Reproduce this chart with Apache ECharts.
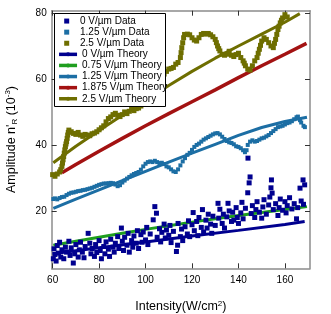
<!DOCTYPE html>
<html><head><meta charset="utf-8">
<script src="https://cdn.jsdelivr.net/npm/echarts@6/dist/echarts.min.js"></script>
<style>html,body{margin:0;padding:0;background:#fff}#c{width:331px;height:314px}</style>
</head><body><div id="c"></div>
<script>
// ---------- data ----------
const xTicks = [60, 80, 100, 120, 140, 160];
const yTicks = [20, 40, 60, 80];
const dataNames = ['0 V/\u00b5m Data', '1.25 V/\u00b5m Data', '2.5 V/\u00b5m Data'];
const theoryNames = ['0 V/\u00b5m Theory', '0.75 V/\u00b5m Theory', '1.25 V/\u00b5m Theory', '1.875 V/\u00b5m Theory', '2.5 V/\u00b5m Theory'];

const data0 = [[60.3,5.5],[60.6,8.5],[61,6.8],[61.5,4.8],[62,9.5],[62.5,7.2],[63,10.5],[63.5,6.0],[64,8.2],[64.8,5.5],[65.5,9.0],[66,7.5],[67,10.8],[67.5,6.5],[68,8.8],[68.9,4.2],[69.5,7.0],[70,9.8],[71,6.0],[71.5,8.2],[72,10.5],[72.8,7.5],[73.5,5.8],[74,9.2],[75.3,13.2],[76,10.2],[76.5,7.0],[77,8.6],[78,6.2],[78.5,9.8],[79,7.4],[80,11.0],[80.5,8.0],[81,5.5],[82,9.2],[82.5,7.0],[83,10.6],[84,8.4],[84.5,6.2],[85,11.4],[86,9.0],[86.5,7.5],[87,10.2],[88,12.2],[88.5,8.6],[89.6,14.8],[90,10.8],[90.5,8.0],[91,12.0],[92,9.6],[92.5,13.2],[93,7.5],[94,11.0],[94.5,9.0],[95,12.4],[96,10.2],[96.5,14.0],[97,8.6],[98,12.8],[98.5,10.5],[99,13.6],[100,11.2],[100.5,15.0],[101,9.8],[102,13.0],[103.3,17.3],[104,21.3],[104.7,19.3],[105,12.0],[106,14.6],[106.5,10.6],[107,13.5],[108,16.0],[108.5,11.8],[109,14.2],[110,12.6],[110.5,15.6],[111,10.4],[112,13.8],[113.3,7.7],[113.8,9.6],[114,16.2],[115,12.2],[115.5,14.5],[116,11.0],[117,15.2],[118,13.0],[118.5,17.0],[119,12.2],[120,15.8],[120.5,19.5],[121,14.0],[122,16.8],[122.5,12.5],[123,18.0],[124,15.0],[124.5,20.4],[125,13.6],[126,17.2],[126.5,14.8],[127,19.0],[128,16.0],[128.5,13.2],[129,18.4],[130,15.6],[131.2,22.3],[131.5,17.8],[132,20.5],[133,16.2],[133.5,19.0],[134,14.8],[135,18.2],[135.5,22.3],[136,20.0],[137,16.8],[137.5,19.6],[138,17.2],[139,21.0],[139.5,18.0],[140,16.2],[141,19.4],[141.5,22.6],[142,17.6],[143,20.8],[144,25.5],[144.1,36.0],[144.6,28.5],[145,30.3],[145.5,19.2],[146,21.6],[147,18.0],[147.5,20.4],[148,22.8],[149,19.6],[150,17.8],[150.5,21.2],[151,23.4],[152,19.0],[153,21.8],[153.5,24.2],[154,27.0],[154.2,29.4],[154.5,25.4],[155,20.4],[156,22.2],[157,18.6],[157.5,21.0],[158,23.6],[159,20.2],[160,22.8],[160.5,19.4],[161,21.6],[162,24.0],[163,20.6],[164,22.2],[165,17.6],[165.5,21.0],[166.5,26.9],[167,23.0],[167.8,29.4],[168.5,27.9],[168,22.0]];

const data125 = [[60.3,23.6],[61,23.8],[62,23.5],[63,23.9],[64,24.2],[65,24.3],[66,24.8],[67,25.2],[68,25.5],[69,25.6],[70,25.8],[71,26.0],[72,26.1],[73,26.3],[74,26.4],[75,26.6],[76,26.8],[77,27.0],[78,27.3],[79,27.6],[80,27.9],[81,28.1],[82,28.3],[83,28.3],[84,28.4],[85,28.5],[86,28.4],[87,28.0],[88,27.5],[89,27.8],[90,28.6],[91,29.2],[92,29.8],[93,30.3],[94,30.8],[95,31.2],[96,31.5],[97,31.8],[98,32.5],[99,33.5],[100,34.3],[101,34.8],[102,35.0],[103,34.8],[104,35.2],[105,34.8],[106,34.5],[107,34.6],[108,34.2],[109,33.5],[110,33.2],[111,32.6],[112,32.0],[113,31.8],[114,32.6],[115,33.8],[116,35.0],[117,36.0],[118,37.0],[119,37.6],[120,38.5],[121,39.4],[122,40.0],[123,40.4],[124,41.0],[125,41.6],[126,42.0],[127,42.4],[128,42.8],[129,43.2],[130,43.5],[131,43.6],[132,43.2],[133,42.5],[134,41.8],[135,41.2],[136,40.8],[137,40.6],[138,40.2],[139,39.6],[140,39.4],[141,39.0],[142,38.4],[142.8,37.8],[143.5,38.4],[144,40.0],[145,41.0],[146,41.4],[147,41.0],[148,41.2],[149,41.6],[150,42.0],[151,42.2],[152,42.6],[153,43.0],[154,43.6],[155,44.2],[156,44.8],[157,45.4],[158,45.6],[159,45.8],[160,46.2],[161,46.6],[162,46.8],[163,47.2],[164,47.8],[165,48.4],[165.6,48.6],[166.5,47.5],[167,46.8],[168,45.8],[168.6,45.4]];

const data25 = [[60,31.0],[61,30.5],[62,31.2],[63,31.8],[63.5,32.5],[64,33.5],[64.25,34.5],[64.5,35.5],[64.75,36.5],[65,37.5],[65.25,38.5],[65.5,39.5],[65.75,40.3],[66,41],[66.25,42],[66.5,43],[66.75,43.8],[67,44.5],[68,44],[69,43.5],[70,43.2],[71,43.8],[72,43],[73,42.6],[74,43.2],[75,43],[76,42.8],[77,43.4],[78,43.6],[79,44],[80,44.6],[81,45.2],[82,45.8],[83,47],[84,48],[85,48.5],[86,49.2],[87,49.6],[88,49],[89,48.6],[90,49.2],[91,50],[92,49.5],[93,50.2],[94,50.8],[95,50.4],[96,51],[97,51.2],[98,51.8],[99,52.5],[100,53.5],[101,54.5],[102,55.5],[103,56.5],[104,57.5],[105,58.5],[106,59.5],[107,60.5],[108,61.5],[109,62.3],[110,63],[111,63.2],[112,63.5],[113,64.5],[114,65],[115,66.5],[115.3,68],[115.6,69.5],[116,71],[116.4,72.5],[116.8,73.5],[118,73.6],[119,73.4],[120,72.5],[121,71.8],[122,71.5],[123,72.5],[124,73.5],[125,73.8],[126,73.6],[127,73.8],[128,73.4],[129,72.8],[130,72],[130.5,71],[131,70],[131.5,69.2],[132,68.5],[133,67.5],[134,67.2],[135,67.5],[136,68.4],[137,67.2],[138,66.8],[139,67.4],[140,67.8],[141,66.5],[142,65.5],[142.5,64.8],[143,64],[144,63],[145,62.7],[146,64],[147,65.5],[148,66.5],[148.5,67.8],[149,69],[149.5,70.2],[150,71.5],[151,72.5],[152,72],[153,71],[154,70],[155,69.5],[155.5,70.8],[156,72],[156.5,73.5],[157,75],[157.5,76],[158,77],[158.5,77.8],[159,78.5],[160,79.5],[161,78.8]];

const theory0 = [[60,7.0],[80,8.8],[100,10.6],[120,12.4],[140,14.1],[160,15.9],[168.5,16.8]];
const theory075 = [[60.3,9.6],[70,10.8],[80,12.0],[90,13.2],[100,14.4],[110,15.5],[120,16.6],[130,17.6],[140,18.6],[150,19.5],[160,20.4],[169.5,21.3]];
const theory125 = [[60.3,20.8],[70,23.6],[80,26.4],[90,29.2],[100,32.0],[110,34.8],[120,37.5],[130,40.2],[140,42.9],[150,45.3],[160,47.1],[169.5,48.4]];
const theory1875 = [[64,31.6],[70,34.1],[80,38.1],[90,42.0],[100,45.8],[110,49.5],[120,53.1],[130,56.7],[140,60.4],[150,64.0],[160,67.5],[169.3,70.8]];
const theory25 = [[60.3,34.6],[70,39.6],[80,44.4],[90,49.0],[100,53.5],[110,58.0],[120,62.3],[130,66.3],[140,70.0],[150,73.6],[160,77.2],[166.4,79.8]];

// ---------- chart ----------
const FONT = '"Liberation Sans", Arial, Helvetica, sans-serif';
const C = {navy:'#00008f', blue:'#1c6ea4', olive:'#6e6e00', red:'#a31212', green:'#1f9e1f'};
const X_MIN = 59.6, X_MAX = 170.8, Y_MIN = 2.6, Y_MAX = 80.7;

function axisBase(show, ticks) {
  return {
    type: 'value', scale: true,
    axisLine: {show: true, onZero: false, lineStyle: {color: '#8c8c8c', width: 1.5}},
    axisTick: {show: true, inside: true, length: 5, customValues: ticks, lineStyle: {color: '#333', width: 1}},
    axisLabel: {show: show, customValues: ticks, fontSize: 10, color: '#000', fontFamily: FONT},
    splitLine: {show: false}
  };
}

const xBottom = Object.assign(axisBase(true, xTicks), {
  min: X_MIN, max: X_MAX, position: 'bottom',
  name: 'Intensity(W/cm{sup|2})', nameLocation: 'middle', nameGap: 31,
  nameTextStyle: {fontSize: 12.5, color: '#000', fontFamily: FONT, lineHeight: 15,
    rich: {sup: {fontSize: 8, lineHeight: 8, verticalAlign: 'top', fontFamily: FONT, color: '#000'}}}
});
xBottom.axisLabel.margin = 7;
const xTop = Object.assign(axisBase(false, xTicks), {min: X_MIN, max: X_MAX, position: 'top'});
const yLeft = Object.assign(axisBase(true, yTicks), {
  min: Y_MIN, max: Y_MAX, position: 'left',
  name: "Amplitude n'{sub|R} (10{sup|-3})", nameLocation: 'middle', nameGap: 33,
  nameTextStyle: {fontSize: 12.5, color: '#000', fontFamily: FONT, lineHeight: 15,
    rich: {
      sub: {fontSize: 8, lineHeight: 8, verticalAlign: 'bottom', fontFamily: FONT, color: '#000'},
      sup: {fontSize: 8, lineHeight: 8, verticalAlign: 'top', fontFamily: FONT, color: '#000'}
    }}
});
yLeft.axisLabel.margin = 5;
const yRight = Object.assign(axisBase(false, yTicks), {min: Y_MIN, max: Y_MAX, position: 'right'});

function lineSeries(name, data, color, width) {
  return {name, type: 'line', data, symbol: 'none', smooth: false, clip: true,
    lineStyle: {color, width}, itemStyle: {color}, z: 2};
}
function scatterSeries(name, data, color, size) {
  return {name, type: 'scatter', data, symbol: 'rect', symbolSize: size, clip: true,
    itemStyle: {color, opacity: 1}, z: 3};
}

const LEG_TOP = 15.5, ROW = 11.1;
const legendText = {fontSize: 10, color: '#000', fontFamily: FONT, lineHeight: ROW};
const option = {
  animation: false,
  backgroundColor: '#fff',
  grid: {left: 51.7, right: 21, top: 10.7, bottom: 45.7, containLabel: false, outerBoundsMode: 'none'},
  xAxis: [xBottom, xTop],
  yAxis: [yLeft, yRight],
  graphic: [{
    type: 'rect', z: 50, silent: true,
    shape: {x: 54.5, y: 13.5, width: 111, height: 93},
    style: {fill: '#fff', stroke: '#000', lineWidth: 1}
  }],
  legend: [{
    orient: 'vertical', left: 64.2, top: LEG_TOP, padding: 0, itemGap: 0,
    itemWidth: 5, itemHeight: 5, selectedMode: false, z: 60,
    formatter: n => '{s|}' + n,
    textStyle: Object.assign({}, legendText, {rich: {s: {width: 5.8}}}),
    data: dataNames
  }, {
    orient: 'vertical', left: 57.3, top: LEG_TOP + 3 * ROW, padding: 0, itemGap: 0,
    itemWidth: 18, itemHeight: 5, selectedMode: false, z: 60,
    textStyle: legendText,
    lineStyle: {width: 3.5},
    data: theoryNames
  }],
  series: [
    lineSeries(theoryNames[0], theory0, C.navy, 3),
    lineSeries(theoryNames[1], theory075, C.green, 3),
    lineSeries(theoryNames[2], theory125, C.blue, 3),
    lineSeries(theoryNames[3], theory1875, C.red, 3.5),
    lineSeries(theoryNames[4], theory25, C.olive, 3),
    scatterSeries(dataNames[0], data0, C.navy, 5),
    scatterSeries(dataNames[1], data125, C.blue, 4),
    scatterSeries(dataNames[2], data25, C.olive, 5)
  ]
};
const chart = echarts.init(document.getElementById('c'), null, {renderer: 'canvas'});
chart.setOption(option);
</script>
</body></html>
